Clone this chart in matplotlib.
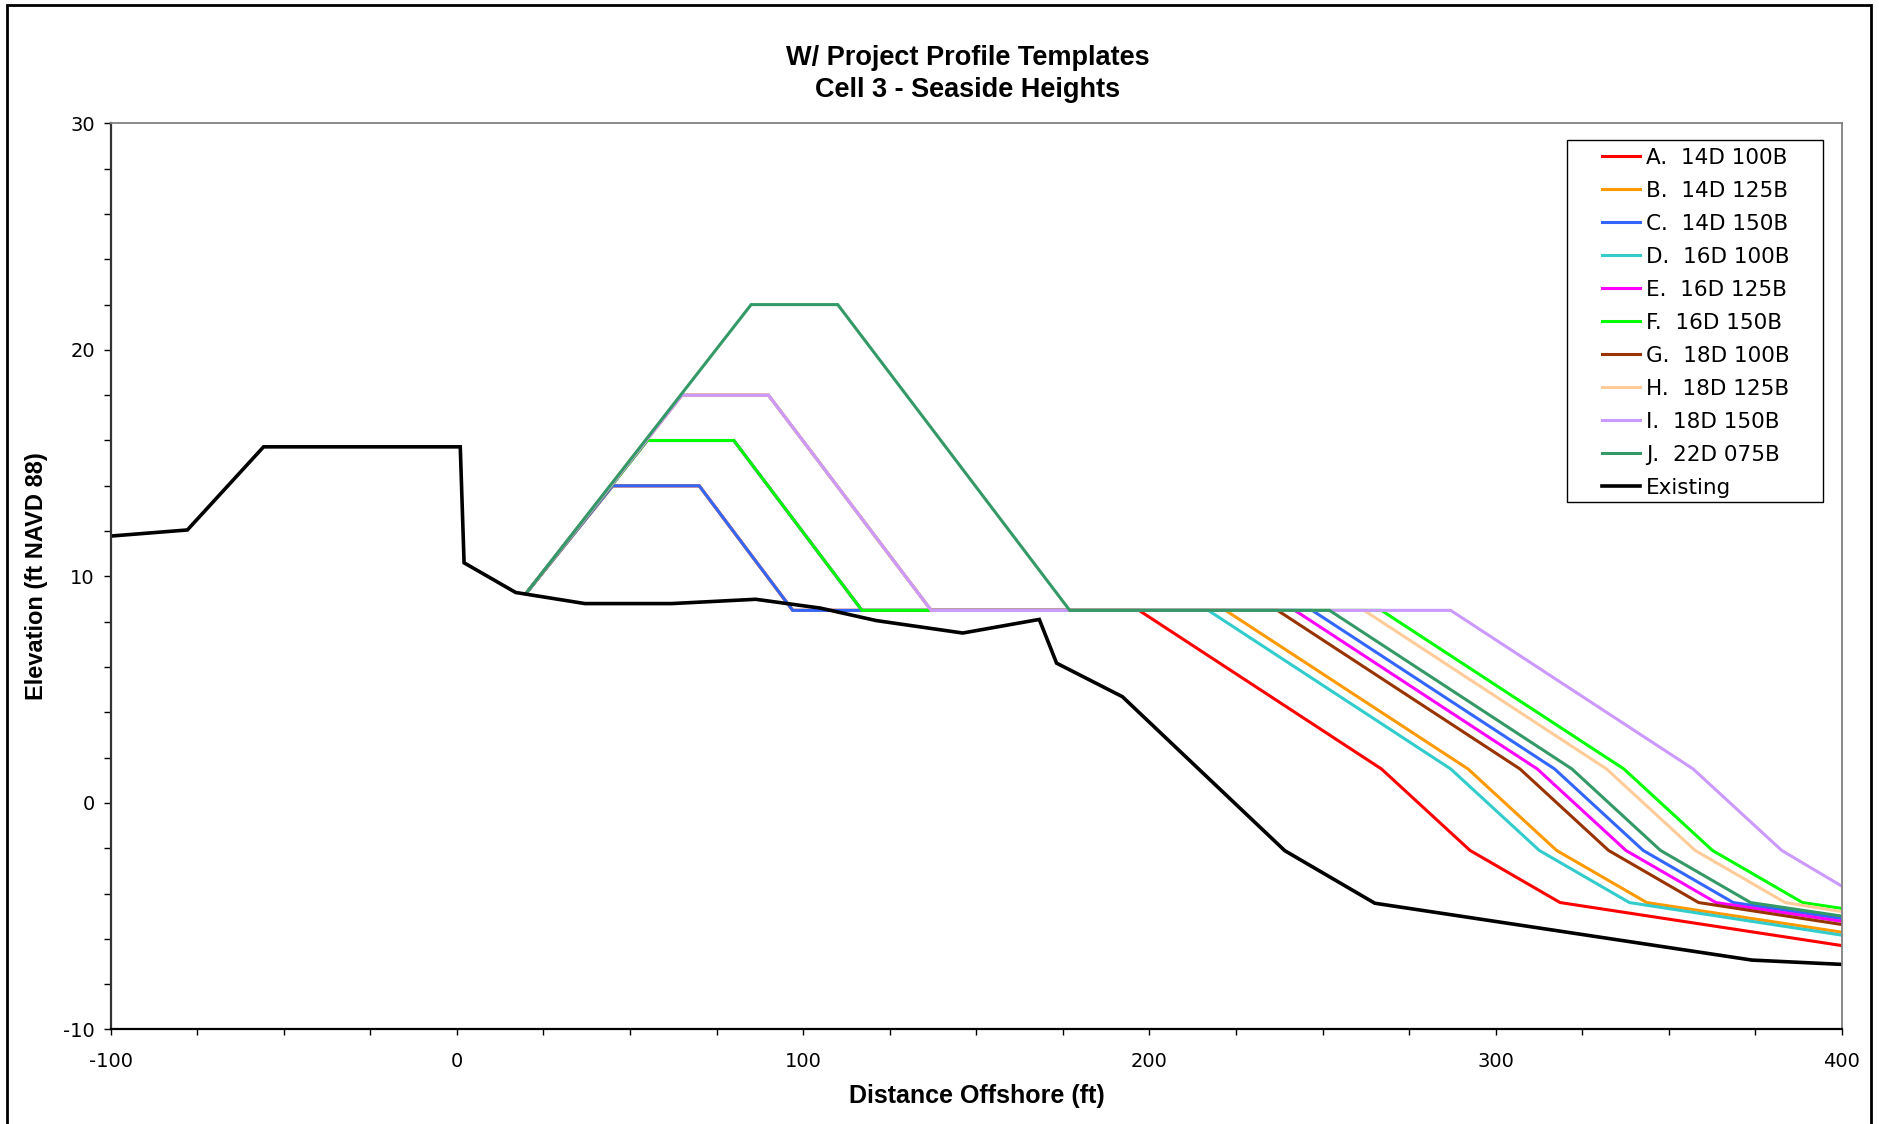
import matplotlib
matplotlib.use("Agg")
import matplotlib.pyplot as plt
from matplotlib.patches import Rectangle
from matplotlib.ticker import MultipleLocator

plt.rcParams["axes.unicode_minus"] = False

# ---- profile data (distance offshore in ft, elevation in ft NAVD 88) ----
series_labels = [
    "A.  14D 100B", "B.  14D 125B", "C.  14D 150B",
    "D.  16D 100B", "E.  16D 125B", "F.  16D 150B",
    "G.  18D 100B", "H.  18D 125B", "I.  18D 150B",
    "J.  22D 075B",
]
series_colors = [
    "#FF0000", "#FF9900", "#3366FF",
    "#33CCCC", "#FF00FF", "#00FF00",
    "#993300", "#FFCC99", "#CC99FF",
    "#339966",
]

a_x = [20, 45, 70, 97, 197, 267, 292.6, 318.6, 400]
a_y = [9.25, 14, 14, 8.5, 8.5, 1.5, -2.1, -4.4, -6.3]
b_x = [20, 45, 70, 97, 222, 292, 317.6, 343.6, 400]
b_y = [9.25, 14, 14, 8.5, 8.5, 1.5, -2.1, -4.4, -5.71]
c_x = [20, 45, 70, 97, 247, 317, 342.6, 368.6, 400]
c_y = [9.25, 14, 14, 8.5, 8.5, 1.5, -2.1, -4.4, -5.11]
d_x = [20, 55, 80, 117, 217, 287, 312.6, 338.6, 400]
d_y = [9.25, 16, 16, 8.5, 8.5, 1.5, -2.1, -4.4, -5.84]
e_x = [20, 55, 80, 117, 242, 312, 337.6, 363.6, 400]
e_y = [9.25, 16, 16, 8.5, 8.5, 1.5, -2.1, -4.4, -5.23]
f_x = [20, 55, 80, 117, 267, 337, 362.6, 388.6, 400]
f_y = [9.25, 16, 16, 8.5, 8.5, 1.5, -2.1, -4.4, -4.66]
g_x = [20, 65, 90, 137, 237, 307, 332.6, 358.6, 400]
g_y = [9.25, 18, 18, 8.5, 8.5, 1.5, -2.1, -4.4, -5.37]
h_x = [20, 65, 90, 137, 262, 332, 357.6, 383.6, 400]
h_y = [9.25, 18, 18, 8.5, 8.5, 1.5, -2.1, -4.4, -4.8]
i_x = [20, 65, 90, 137, 287, 357, 382.6, 400]
i_y = [9.25, 18, 18, 8.5, 8.5, 1.5, -2.1, -3.68]
j_x = [20, 85, 110, 177, 252, 322, 347.6, 373.6, 400]
j_y = [9.25, 22, 22, 8.5, 8.5, 1.5, -2.1, -4.4, -5.0]

existing_x = [-100, -77.8, -55.8, 1.0, 2.1, 17.0, 37.0, 62.0, 86.3, 105.0,
              121.1, 146.1, 168.2, 173.2, 192.2, 239.1, 265.1, 374.0, 400]
existing_y = [11.78, 12.05, 15.72, 15.72, 10.6, 9.29, 8.8, 8.8, 8.99, 8.6,
              8.05, 7.5, 8.1, 6.17, 4.69, -2.11, -4.43, -6.94, -7.13]

series_x = [a_x, b_x, c_x, d_x, e_x, f_x, g_x, h_x, i_x, j_x]
series_y = [a_y, b_y, c_y, d_y, e_y, f_y, g_y, h_y, i_y, j_y]

x_ticks = [-100, 0, 100, 200, 300, 400]
y_ticks = [-10, 0, 10, 20, 30]

# ---- figure layout ----
W, H = 1879, 1124
fig = plt.figure(figsize=(W / 100, H / 100), dpi=100)
fig.patch.set_facecolor("white")

left_px, right_px, top_px, bottom_px = 110.5, 1842.0, 123.4, 1029.4
ax = fig.add_axes([left_px / W, 1 - bottom_px / H,
                   (right_px - left_px) / W, (bottom_px - top_px) / H])

for xs, ys, lab, col in zip(series_x, series_y, series_labels, series_colors):
    ax.plot(xs, ys, color=col, lw=2.2, label=lab, solid_joinstyle="miter")
ax.plot(existing_x, existing_y, color="black", lw=2.6, label="Existing",
        solid_joinstyle="miter")

ax.set_xlim(-100, 400)
ax.set_ylim(-10, 30)
ax.set_xticks(x_ticks)
ax.set_yticks(y_ticks)
ax.xaxis.set_minor_locator(MultipleLocator(25))
ax.yaxis.set_minor_locator(MultipleLocator(2))

ax.tick_params(axis="x", which="both", direction="out", length=4, width=1,
               pad=12, labelsize=14)
ax.tick_params(axis="y", which="both", direction="out", length=4.8, width=1,
               pad=6.5, labelsize=14)
for lbl in ax.get_xticklabels() + ax.get_yticklabels():
    lbl.set_family("DejaVu Sans")

ax.spines["left"].set_color("#333333")
ax.spines["left"].set_linewidth(1.6)
ax.spines["bottom"].set_color("black")
ax.spines["bottom"].set_linewidth(1.6)
ax.spines["top"].set_color("#808080")
ax.spines["top"].set_linewidth(1.3)
ax.spines["right"].set_color("#808080")
ax.spines["right"].set_linewidth(1.3)

# ---- titles and axis labels ----
title_font = dict(family="Liberation Sans", weight="bold", size=19.5)
fig.text(968 / W, 1 - 58 / H, "W/ Project Profile Templates",
         ha="center", va="center", **title_font)
fig.text(968 / W, 1 - 90 / H, "Cell 3 - Seaside Heights",
         ha="center", va="center", **title_font)

fig.text(976.5 / W, 1 - 1096.5 / H, "Distance Offshore (ft)",
         ha="center", va="center", family="Liberation Sans", weight="bold",
         size=18)
fig.text(37 / W, 1 - 576.4 / H, "Elevation (ft NAVD 88)",
         ha="center", va="center", rotation=90, family="Liberation Sans",
         weight="bold", size=17)

# ---- legend ----
leg = ax.legend(loc="upper left", bbox_to_anchor=(1601.7 / W, 1 - 147.5 / H),
                bbox_transform=fig.transFigure, frameon=False, borderpad=0,
                borderaxespad=0, handlelength=1.78, handletextpad=0.28,
                labelspacing=0.604, prop={"family": "DejaVu Sans", "size": 15.5})
fig.add_artist(Rectangle((1566.7 / W, 1 - 501.7 / H),
                         (1823.3 - 1566.7) / W, (501.7 - 140) / H,
                         transform=fig.transFigure, fill=False,
                         edgecolor="black", lw=1.0))

# ---- outer chart border ----
fig.add_artist(Rectangle((7.3 / W, -0.02), (1870.7 - 7.3) / W, 1 - 5 / H + 0.02,
                         transform=fig.transFigure, fill=False,
                         edgecolor="black", lw=2.0))

fig.savefig("out.png", dpi=100, facecolor="white")
